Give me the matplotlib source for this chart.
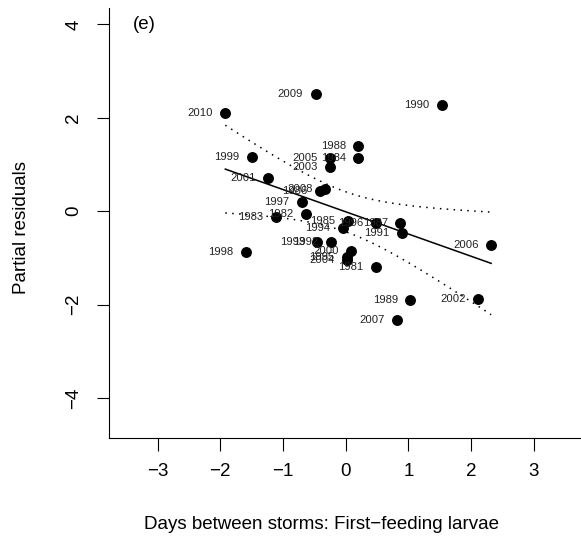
import numpy as np
import matplotlib
matplotlib.use("Agg")
import matplotlib.pyplot as plt

plt.rcParams['font.family'] = ['Liberation Sans', 'DejaVu Sans']

# partial residuals, one point per year
years = [1981, 1982, 1983, 1984, 1985, 1986, 1987, 1988, 1989, 1990,
         1991, 1992, 1993, 1994, 1995, 1996, 1997, 1998, 1999, 2000,
         2001, 2002, 2003, 2004, 2005, 2006, 2007, 2008, 2009, 2010]
days = [0.48, -0.64, -1.11, 0.20, 0.04, -0.41, 0.87, 0.20, 1.03, 1.53,
        0.89, -0.24, -0.45, -0.05, 0.02, 0.48, -0.70, -1.59, -1.50, 0.09,
        -1.24, 2.11, -0.25, 0.02, -0.25, 2.32, 0.82, -0.33, -0.48, -1.92]
resid = [-1.20, -0.05, -0.13, 1.15, -0.21, 0.43, -0.25, 1.39, -1.91, 2.28,
         -0.46, -0.66, -0.66, -0.36, -0.98, -0.25, 0.20, -0.88, 1.16, -0.85,
         0.71, -1.89, 0.95, -1.05, 1.13, -0.72, -2.34, 0.48, 2.52, 2.11]

x = np.array(days)
y = np.array(resid)
n = len(x)

# least squares line with 95% confidence band
slope, icpt = np.polyfit(x, y, 1)
s = np.sqrt(np.sum((y - (icpt + slope * x)) ** 2) / (n - 2))
sxx = np.sum((x - x.mean()) ** 2)
t = 2.048
xs = np.linspace(x.min(), x.max(), 200)
fit = icpt + slope * xs
hw = t * s * np.sqrt(1 / n + (xs - x.mean()) ** 2 / sxx)

fig = plt.figure(figsize=(5.81, 5.42), dpi=100)
ax = fig.add_axes([108.7 / 581, 1 - 437.7 / 542, 474 / 581, 429.4 / 542])

ax.scatter(x, y, s=62, color='black', zorder=3, linewidths=0)
for yr, xi, yi in zip(years, x, y):
    ax.annotate(str(yr), (xi, yi), xytext=(-9, 0), textcoords='offset points',
                ha='right', va='center', fontsize=8.1, color='#222222')

ax.plot(xs, fit, color='black', lw=1.1)
ax.plot(xs, fit + hw, color='black', lw=1.1, ls=(0, (1, 3.5)))
ax.plot(xs, fit - hw, color='black', lw=1.1, ls=(0, (1, 3.5)))

ax.text(-3.39, 4.0, '(e)', fontsize=13.5, va='center', ha='left')

ax.set_xlim(-3.78, 3.78)
ax.set_ylim(-4.85, 4.345)
ax.set_xticks([-3, -2, -1, 0, 1, 2, 3])
ax.set_yticks([-4, -2, 0, 2, 4])
ax.set_yticklabels(['\u22124', '\u22122', '0', '2', '4'], rotation=90, va='center')
ax.tick_params(labelsize=13.5, length=9, width=0.8, pad=9)
ax.tick_params(axis='y', pad=10)
ax.spines['top'].set_visible(False)
ax.spines['right'].set_visible(False)
for sp in ['left', 'bottom']:
    ax.spines[sp].set_linewidth(0.8)

ax.set_xlabel('Days between storms: First\u2212feeding larvae', fontsize=13.5)
ax.xaxis.set_label_coords(0.448, -0.183)
ax.set_ylabel('Partial residuals', fontsize=13.5)
ax.yaxis.set_label_coords(-0.165, 0.49)

fig.savefig('out.png', dpi=100)
